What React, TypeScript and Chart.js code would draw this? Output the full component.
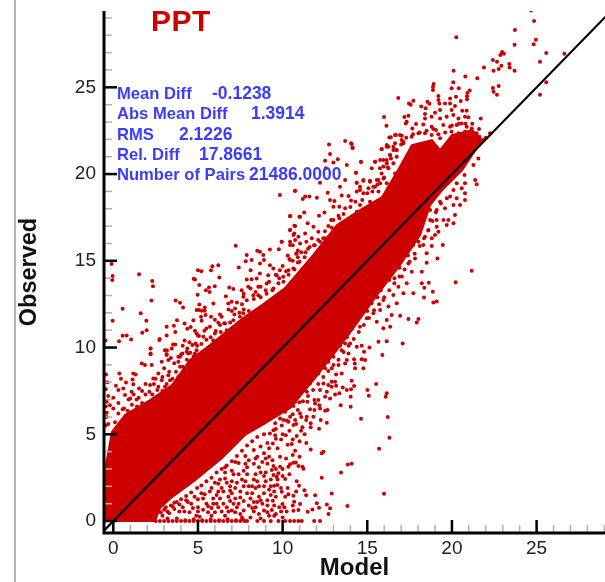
import React, { useEffect, useRef } from "react";
import { Chart, registerables } from "chart.js";

Chart.register(...registerables);

const titleText = "PPT";
const xTitle = "Model";
const yTitle = "Observed";
const xMajor = [0, 5, 10, 15, 20, 25];
const yMajor = [0, 5, 10, 15, 20, 25];
const xMinor = [1,2,3,4,6,7,8,9,11,12,13,14,16,17,18,19,21,22,23,24,26,27,28,29];
const yMinor = [1,2,3,4,6,7,8,9,11,12,13,14,16,17,18,19,21,22,23,24,26,27,28,29];
const statLabels = ["Mean Diff", "Abs Mean Diff", "RMS", "Rel. Diff", "Number of Pairs"];
const statValues = ["-0.1238", "1.3914", "2.1226", "17.8661", "21486.0000"];
const statLabelX = [117, 117, 117, 117, 117];
const statValueX = [212, 251, 179, 199, 249];
const statBaseY = [98.5, 119, 139.5, 160, 180];

// solid part of the cloud, outline
const coreOutline = [
  -0.49,0, -0.49,2.94, -0.08,5.13, 0.69,6.11, 2.17,6.97, 3.47,7.84, 4.53,9.28, 5.71,10.14, 7.66,11.7, 8.78,12.45,
  10.14,13.43, 11.8,15.33, 13.21,17.06, 14.57,17.93, 15.87,18.67, 16.82,20.23, 17.64,21.67, 18.82,21.96, 19.3,21.38, 20,22.25,
  21.19,22.54, 21.78,21.96, 20.6,20.23, 19.42,19.08, 18.71,18.21, 18.12,16.48, 16.94,14.76, 15.58,13.03, 14.1,11.01, 13.1,9.74,
  11.91,8.24, 10.44,6.51, 8.78,5.53, 7.78,4.96, 6.42,3.63, 4.83,2.36, 3.47,1.38, 2.76,0.75, 2.46,0, -0.49,0,
];
const farOutliers = [
  20.26,27.88, 24.67,29.43, 24.85,28.82, 23.72,28.3, 23.7,27.46, 24.83,27.49, 24.96,27.74, 25.57,26.98, 25.2,26.47, 26.64,26.94,
  25.57,25.3, 25.2,24.57, 22.42,26.57, 22.66,26.47, 22.86,26.86, 22.96,27.03, 23.07,26.94, 22.92,26.25, 22.76,26.05, 22.46,25.96,
  21.89,26.15, 23.39,26.34, 23.41,26.15, 23.7,25.96, 21.5,25.52, 20.79,25.63, 20.1,25.96, 20.08,25.3, 18.92,25.19, 18.88,25.03,
  18.88,24.84, 19.98,24.94, 20.4,24.94, 21.05,24.82, 20.91,24.67, 20.89,24.48, 20.89,24.32, 22.42,24.96, 22.76,25.07, 22.46,24.75,
  22.66,24.57, 16.83,24.38, 17.72,24.23, 17.46,24.07, 17.56,24, 18.19,23.9, 18.55,24.17, 18.67,24.05, 18.45,23.79, 19.2,24.5,
  19.2,24.27, 19.26,24.07, 19.59,24.07, 19.89,24.36, 20.24,24.46, 20.52,24.21, 19.89,24.07, 20.18,23.92, 19.98,23.69, 19.3,23.69,
  19,23.54, 18.8,23.3, 18.41,23.46, 18.41,23.21, 15.99,23.29, 16.13,22.79, 17.19,23.29, 17.43,23.36, 17.33,23.02, 17.27,22.92,
  17.88,22.88, 17.66,22.63, 18.31,22.86, 18.8,22.73, 19.06,22.54, 19.3,23.21, 19.69,23.3, 20.08,23.4, 20.61,23.65, 20.87,23.65,
  20.77,23.3, 20.38,23.21, 20.97,23.27, 21.7,23.21, 20.87,22.73, 20.57,22.92, 20.28,22.83, 19.89,22.73, 19.49,22.83, 21.17,22.63,
  20.77,22.44, 20.38,22.35, 19.98,22.44, 21.46,22.35, 21.26,22.15, 21.62,22.15, 22.25,22.35, 21.85,21.96, 21.52,21.87, 21.07,21.96,
  20.67,21.87, 20.18,21.96, 19.79,21.87, 19.3,22.06, 18.8,22.25, 18.41,22.35, 18.02,22.35, 17.62,22.15, 16.93,22.25, 16.64,22.25,
  16.3,22.11, 17.03,21.96, 14.08,21.73, 14.14,21.5, 14.63,20.69, 14.33,20.08, 15.85,21.44, 16.15,21.58, 16.54,21.58, 17.13,21.77,
  16.74,21.38, 16.34,21.1, 15.95,20.81, 15.46,20.71, 15.26,20.33, 15.75,20.33, 16.15,20.62, 15.16,19.56, 14.77,19.66, 14.37,19.5,
  15.65,19.66, 15.46,19.27, 14.57,19.08,
];
const upperEdgeDots = [
  12.74,21.71, 13.69,21.9, 14.04,21.77, 14.12,21.52, 12.8,21.16, 12.51,20.77, 13.26,20.85, 13,20.66, 12.55,20.33, 13.79,20.52,
  14.63,20.71, 14.34,20.08, 12.21,19.5, 13.69,19.66, 13.39,19.27, 10.74,19.02, 12.66,18.93, 11.58,18.7, 12.02,18.64, 11.33,18.7,
  11.19,18.56, 12.8,18.5, 13.06,18.45, 13.49,18.76, 13.89,18.74, 14.04,18.47, 13,18.12, 13.35,18.12, 13.69,18.03, 12.47,17.79,
  12.15,17.6, 11.27,17.79, 11.03,17.54, 10.44,17.58, 12.86,17.35, 13.35,17.45, 11.48,17.16, 11.82,16.97, 10.74,17.01, 10.44,16.78,
  12.11,16.68, 11.33,16.58, 10.64,16.49, 11.72,16.3, 10.74,16.2, 12.51,16.3, 12.21,16.1, 9.95,16.1, 10.44,15.91, 11.03,16, 12.8,16,
  13.2,16.78, 13.79,17.16, 14.38,17.83, 14.57,18.22, 14.38,18.99, 14.57,19.27, 14.38,19.5, 14.77,19.62, 15.16,19.62, 15.56,19.66,
  15.76,19.47, 15.36,19.27, 15.07,19.18, 14.77,18.89, 15.85,20.04, 15.95,20.43, 15.46,20.71, 15.76,20.81, 15.85,21.43, 16.25,21.58,
  16.15,21.68, 16.39,22.12, 16.68,22.25, 17.04,22.21, 16.64,21.77, 17.13,21.87, 16.54,21.39, 16.35,21.1, 16.15,20.81, 16.74,21,
  16.54,20.62, 16.25,20.33, 15.95,19.75, 16.15,19.47, 16.64,20.04, 16.84,19.66, 16.35,19.08, 15.66,18.99, 15.76,18.5, 15.46,18.22,
  15.16,18.41, 14.97,18.03, 14.77,17.64, 14.28,17.35, 13.98,17.45, 13.79,16.87, 12.9,16.9, 12.5,16.7, 11.9,15.9, 11.5,15.7, 11.1,15.5,
  12.2,15.6, 12.9,16.3, 13.4,17, 10.8,15.4, 11.3,15.2, 10.3,15.3, 10.6,15, 10.9,14.9, 11.4,16.1,
  -0.1,14.81, -0.04,14.12, -0.06,13.89, 1.52,14.23, 2.3,13.83, 2.34,13.54, 2.25,12.71, 0.55,12.23, 1.62,11.97, -0.04,11.54,
  1.95,11.54, 1.97,11, 1.71,10.85, 0.79,10.7, 0.55,10.68, 1.05,10.47, 0.34,10.37, -0.47,10.41, 2.72,10.43, 2.74,10.5, 3.15,11.2,
  3.15,10.7, 3.58,11.25, 3.76,11.58, 3.68,12.71, 3.94,12.58, 4.12,12.31, 2.2,9.95, 2.2,9.62, 3.07,9.83, 3.17,9.83, 3.15,9.62,
  3.53,10.18, 3.66,10.18, 3.66,10.89, 4.21,11.39, 4.57,11.18, 4.73,11.58, 4.21,10.41, 4.82,10.97, 4.37,11.08, 4.75,13.96, 4.82,13.92,
  5,14.46, 5.2,14.4, 5.08,13.6, 4.98,13.04, 5.08,12.48, 4.92,12.16, 5.06,12.16, 5.22,12.12, 5.4,12.31, 5.4,12.12, 5.18,11.77, 5.45,11.87,
  5.22,11.54, 5.77,11.77, 5.71,11.2, 5.38,10.97, 5.06,10.66, 4.92,10.81, 4.67,10.14, 4.86,10.24, 4.37,9.95, 4.08,9.66, 3.84,9.47,
  4.43,9.66, 4.82,9.66, 5.32,9.66, 5.32,10.62, 5.85,14.69, 5.77,14.46, 6.2,14.75, 6.26,14.04, 5.65,13.46, 5.99,13.54, 5.47,13.31,
  5.69,13.2, 5.91,12.54, 7.23,15.87, 7.88,15.33, 8.5,15.58, 7.82,14.98, 7.41,14.62, 6.85,13.46, 7.09,13.37, 6.65,12.96, 7.58,13.31,
  8.17,15.04, 8.11,14.46, 8.66,15.52, 8.86,15.33, 8.9,15.04, 8.66,14.85, 9.25,15.65, 9.78,15.67, 9.84,18.8, 10.73,19.04, 10.44,17.57,
  10.69,17.02, 10.44,16.77, 10.69,16.58, 9.94,16.1, 10.44,16.1, 10.6,15.9, 10.99,17.54, 10.93,16.38, 10.83,15.42, 10.44,15.04,
  9.25,14.75, 9.45,14.56, 9.84,14.46, 10.34,14.46, 10.63,14.56, 8.66,14.27, 9.15,14.17, 9.65,14.17, 10.04,14.08, 7.88,13.92, 8.17,13.94,
  8.47,13.98, 8.56,13.5, 9.06,13.69, 9.45,13.41, 7.97,13.5, 8.27,13.02, 7.68,12.93, 7.88,12.73, 8.56,13.02, 6.79,12.54, 6.99,12.64,
  7.19,12.25, 6.4,11.77, 6.2,11.43, 6.6,11.39, 7.09,11.58, 7.48,11.77, 7.68,11.97, 6.1,10.24, 6.5,10.24, 6,10.81, 6.7,11, 7.29,11.1,
  6.99,11.1, 5.71,10.04, 5.9,10.4,
];
const upperFillDots = [
  -0.43,8.45, 0.36,8.51, 1.18,8.51, 1.32,8.45, 0.75,7.99, 1.14,8.16, 1.18,7.89, 1.52,7.64, 0.3,7.55, 0.59,7.64, 1.08,7.45, 0.69,7.26, 1,7.07,
  1.38,7.01, -0.39,6.88, -0.2,6.68, 0,6.49, 0.63,6.49, -0.39,6.24, 1.68,9.08, 1.87,8.99, 2.27,8.99, 2.2,9.66, 2.2,9.95, 3.05,9.85, 3.15,9.57,
  2.86,9.18, 3.25,9.28, 2.66,8.51, 3.25,8.41, 2.36,8.22, 2.86,8.12, 3.35,8.12, 2.17,7.84, 2.66,7.74, 3.05,7.74, 3.45,7.74, 2.13,7.45,
  3.45,9.95, 3.94,9.47, 3.84,9.18, 3.94,8.89, 4.33,9.76, 4.92,9.85, 3.84,8.32,
  -0.3,5.6, 0.1,5.7, 0.3,6.2, 0.55,6.45, 0.85,6.35, 1.1,6.7, 1.4,6.6, 1.7,6.8, 1.5,7.1, 1.9,7.3, 2.3,7.3, 2.6,7.55, 2.9,7.5, 3.15,7.9, 3.5,8.2,
  3.7,8.6, 3.95,8.35, 4.1,8.9, 4.35,9.3, 4.55,9.7, 4.75,9.5, 4.95,10.1, 5.2,10.2, 5.5,10.45, 5.75,10.6, 6.05,10.95, 6.35,10.9, 6.55,11.4, 6.9,11.45,
  7.15,11.9, 7.45,12, 7.7,12.2, 8,12.1, 8.3,12.8, 8.7,12.9, 9.05,13.1, 9.4,13.3, 9.75,13.7, 10.05,13.8, 10.35,14.2, 10.7,14.5, 11,14.95, 11.35,15.5,
  11.6,15.8, 11.85,15.9, 12.1,16.2, 12.4,16.3, 12.7,17, 13,17.35, 13.3,17.6, 13.6,17.7, 14,18.1, 14.3,18.4, 14.7,18.5, 15,18.9, 15.3,19, 15.6,19.4,
  16,19.8, 16.2,20.4, 16.4,20.9, 16.7,21.4, 17,21.7, 17.3,22.1, 17.7,22.3, 18.1,22.4, 18.5,22.5, 18.9,22.6, 19.2,22.3, 19.6,22.4, 20,22.8, 20.4,22.9,
  20.8,22.9, 21.2,22.9, 21.6,22.6, 22,22.1,
  0.3,6.8, 0.9,7, 1.2,7.3, 1.7,7.5, 2.4,7.9, 2.9,8.3, 3.3,8.6, 3.6,9.1, 4,9.6, 4.5,10.3, 5,10.7, 5.5,11.1, 6,11.6, 6.3,11.9, 6.8,12.2, 7.3,12.6,
  7.7,13.1, 8.1,13.4, 8.7,13.5, 9.2,13.8, 9.6,14.2, 10,14.7, 10.4,15.1, 10.9,15.6, -0.45,5.5, -0.4,6, -0.45,6.6, -0.3,7.2, -0.45,7.6, -0.35,8, 0,7.1,
  0.15,7.8, 0.45,8.2, 1.9,7.9, 2.5,8.2, 3,8.8, 3.4,9.4, 4.1,10.1, 6.3,11.3, 7,12.1, 7.6,12.5, 8.4,13.2, 9,13.3, 9.8,14, 10.2,14.4, 10.9,15.2,
];
const lowerEdgeDots = [
  21.17,14.43, 20.22,13.76, 19.1,12.65, 18.9,12.59, 18.87,13.22, 18.35,12.88, 17.72,13.13, 18.63,13.74, 18.22,13.7, 18.37,13.45,
  19.14,15.14, 18.51,14.89, 18.22,14.37, 19.46,15.91, 18.81,15.85, 18.51,15.43, 17.82,15.14, 17.43,14.85, 17.63,14.37, 17.04,14.09,
  17.33,13.7, 16.84,13.51, 17.13,13.13, 16.54,13.03, 16.74,12.55, 16.25,12.36, 15.95,12.74, 15.76,12.17, 15.26,12.55, 15.36,11.97,
  14.97,11.69, 15.56,11.49, 16.15,11.59, 16.44,11.88, 16.94,11.84, 17.43,11.65, 18.02,11.65, 17.92,11.44, 16.35,11.2, 15.95,11.11,
  14.57,11.2, 21.56,20.9, 21.27,20.52, 20.74,19.95, 21.37,19.66, 21.46,19.41, 20.77,19.47, 20.28,19.47, 20.58,19.18, 20.09,19.08,
  20.77,18.89, 20.28,18.6, 19.89,18.7, 20.77,18.5, 20.48,18.22, 20.09,18.22, 19.59,18.03, 19.3,18.41, 20.18,17.64, 19.79,17.35,
  19.5,17.35, 20.09,17.16, 19.69,17.06, 19.1,17.35, 19.1,16.97, 18.71,17.35, 18.61,16.78, 19,16.49, 19.2,16.68, 18.81,16.3, 18.41,16.39,
  18.31,15.91, 18.02,16.1, 18.12,16.97, 18.71,17.93, 19.1,17.93, 18.51,18.41, 18.1,18, 17.7,15.9, 17.4,15.3, 16.9,14.6, 16.3,13.9,
  15.8,13.3, 15.3,12.9, 14.8,12.2, 14.4,11.7, 16.6,14, 16,13.7, 15.6,12.9, 15,12.1, 14.1,11.1, 13.8,10.6, 13.4,10.1,
  17.09,10.24, 15.89,9.57, 16.15,10.37, 15.66,10.33, 15.13,10, 14.81,9.76, 14.87,9.28, 14.67,9.33, 14.77,8.8, 14.28,8.8, 14.22,9.33,
  14.26,9.08, 14.38,10.05, 14.67,10.1, 14.08,8.09, 15.52,7.9, 14.22,7.78, 14.04,7.59, 13.79,7.55, 15.01,7.55, 16.15,7.36, 16.09,7.16,
  15.09,7.22, 14.02,7.16, 14.02,6.59, 13.43,6.68, 14.63,5.9, 16.21,5.99, 16.31,4.8, 15.7,4.17, 14.08,3.3, 13.85,3.26, 13.45,2.8,
  12.31,2.5, 12.9,1.59, 15.99,1.57, 13.83,0.86, 12.71,0.4, 12.8,0.73, 12.61,0.96, 12.15,0.77, 12.02,1.02, 11.76,0.67, 11.48,0.54,
  11.92,1.48, 11.39,1.48, 11.29,1.78, 10.97,2.03, 10.83,2.3, 10.64,1.46, 10.34,1.55, 10.15,1.4, 9.95,1.69, 10.68,1.11, 11.03,0.98,
  10.93,0.63, 10.64,0.59, 10.24,0.55, 9.91,0.55, 9.99,0.98, 9.42,1.17, 9.36,0.63, 12.31,3.9, 12.41,4, 11.66,4.13, 10.74,4.05, 10.54,4.44,
  9.85,3.71, 9.91,4.7, 9.42,4.47, 10.19,4.95, 10.83,4.9, 11.17,5.4, 11.09,5.2, 11.66,5.4, 12.15,5.32, 12.61,5.67, 12.25,5.82, 11.82,6.01,
  11.43,6.01, 11.39,5.82, 11.66,5.63, 11.03,6.2, 12.51,6.36, 12.65,6.4, 12.21,6.49, 12.17,6.68, 11.88,6.4, 11.62,6.45, 11.92,6.78,
  11.88,6.97, 11.46,6.88, 10.99,6.84, 10.74,6.88, 10.24,6.49, 10.15,6.3, 10.64,6.63, 10.44,6.01, 10.74,5.82, 10.34,5.72, 10.05,5.82,
  9.85,5.91, 10.64,5.53, 9.56,5.63, 9.46,5.24, 9.56,4.95, 10.44,3.28, 10.64,3.36, 10.78,3.38, 10.34,3.13, 10.93,3.17, 11.17,3.13,
  11.23,3.01, 9.85,3.13, 9.46,3.17, 9.36,2.94, 9.75,2.75, 9.65,2.55, 9.46,2.65, 10.15,2.42, 9.69,2.07, 9.5,2.03, 12.41,7.93, 12.9,8.03,
  13.1,8.03, 13.16,7.8, 12.9,7.74, 12.7,7.84, 13.55,7.7, 13.35,7.36, 13.1,7.3, 12.8,7.07, 12.51,7.16, 12.21,7.55, 12.61,7.45, 12.11,6.97,
  13.3,9, 13.49,8.51, 13.16,8.45, 12.9,8.8, 13.69,9.08, 13.79,9.28, 13.69,10.24, 13.98,10.24, 13.39,10.33, 13.2,10.05, 13.49,9.85,
  13.89,9.66, 13,9.47, 12.7,9.18, 12.51,8.8, 12.11,8.51, 11.82,8.22, 11.62,7.93, 11.43,7.45, 10.93,7.16,
];
const lowerFillDots = [
  2.9,0.3, 3.2,0.55, 3.5,0.85, 3.75,1.1, 4,1.25, 4.3,1.45, 4.6,1.65, 4.95,1.9, 5.2,2.05, 5.5,2.3, 5.8,2.5, 6.1,2.8, 6.4,3, 6.7,3.2, 7,3.45, 7.3,3.75,
  7.6,4.05, 7.9,4.35, 8.2,4.6, 8.5,4.85, 8.9,5, 9.25,5.05, 9.6,5.3, 9.95,5.5, 10.25,5.8, 10.6,6.15, 10.9,6.4, 11.2,6.9, 11.5,7.2, 11.8,7.55, 12.1,7.9,
  12.4,8.3, 12.7,8.65, 13,9, 13.3,9.3, 13.6,9.75, 13.9,10.1, 14.2,10.5, 14.5,10.9, 14.8,11.3, 15.1,11.7, 15.4,12.15, 15.7,12.5, 16,12.9, 16.3,13.3,
  16.6,13.7, 16.9,14.1, 17.2,14.5, 17.5,14.95, 17.8,15.4, 18.1,15.85, 18.35,16.3, 18.6,16.75, 18.85,17.3, 19.05,17.8, 19.35,18.3, 19.7,18.6,
  3.1,0.8, 3.6,1.05, 4.2,0.55, 4.7,0.75, 5,1.25, 5.4,1.55, 5.8,1.9, 6.2,2.15, 6.6,2.45, 7.1,2.7, 7.4,3.35, 7.8,3.75, 8.3,4.1, 8.7,4.3, 9.1,4.5, 9.6,4.75,
  10,5, 10.4,5.2, 10.8,5.6, 11.1,6, 3.2,0.15, 3.75,0.15, 4.25,0.05, 4.75,0.1, 5.25,0.05, 5.75,0.1, 6.25,0.05, 6.75,0.1, 7.25,0.05, 7.65,0.1,
  5,0.55, 5.8,0.75, 6.4,0.55, 7,0.6, 7.5,0.4, 8.3,0.55, 8.5,1.1, 9.1,0.9, 9.6,0.4, 10,0.2, 5.1,0.25, 5.5,1, 5.9,1.3, 6.3,1.3, 6.5,1.7, 6.7,2.2, 7,1.6,
  7.2,1.3, 7.3,2.2, 7.7,2, 7.9,1.6, 7.9,2.7, 8.2,1.6, 8.3,2.4, 8.6,1.4, 8.6,2, 8.7,2.8, 8.8,3.4, 9,2.8, 9.2,3.7, 8.9,3.9, 8.3,3.3, 7.7,2.9, 7.2,3.4,
  6.6,3.1, 6,2.2, 5.7,1.7, 5.3,1.3, 4.8,1.4, 4.4,1.1, 3.9,0.55, 3.3,0.45, 8.1,0.2, 8.4,0.8, 8.9,0.6, 9.2,0.3, 9.5,0.9, 9.6,1.4, 9.3,2, 9.1,1.2, 9.7,2.4,
  9.6,3, 10,3, 10.2,3.6, 9.7,4.2, 10.3,4.4, 10.6,4.7, 11,4.6, 10.6,3.8, 11,3.7, 11.4,4.5, 11.3,5,
  8.2,2, 8.4,2.7, 8.5,3.7, 8.6,0.4, 8.8,1, 8.9,1.6, 9,2.3, 9.1,3.3, 9.2,4.2, 9.3,1.5, 7.1,1, 7.7,0.6, 5.6,0.5, 6,0.5, 6.1,1, 6.2,1.7, 6.3,2.4, 6.6,0.3,
  6.7,0.8, 6.8,1.4, 6.9,2, 7,2.9, 7.2,0.5, 7.4,1, 7.5,1.7, 7.6,2.4, 7.8,3.3, 8,0.9, 8.1,1.3,
  2.8,0.5, 3,0.65, 3.4,0.9, 3.6,0.7, 3.9,0.95, 4.1,0.8, 4.3,1.2, 4.5,0.5, 4.6,1, 4.9,0.3, 5,0.8, 5.2,1.6, 5.3,0.65, 5.6,0.85, 5.8,0.3, 5.9,1, 6.1,1.5,
  6.2,0.8, 6.4,1.9, 6.5,1, 6.6,2.8, 6.8,0.55, 6.9,1.15, 6.9,1.75, 7,2.3, 7.2,1.9, 7.3,0.8, 7.4,2.7, 7.5,1.35, 7.6,0.2, 7.7,1.15, 7.8,2.3, 7.9,3.1, 8,2,
  8,3.5, 8.2,0.75, 8.3,1.1, 8.4,1.9, 8.4,3.6, 8.5,2.3, 8.6,3.1, 8.7,0.15, 8.7,1.2, 8.9,2, 8.9,2.6, 9,3.6, 9.1,0.5, 9.2,1.8, 9.3,2.4, 9.4,3.5, 9.5,0.3,
  9.5,1.7, 9.8,0.8, 9.9,1.9, 10,2.6, 10.1,0.8, 10.3,1.9, 10.4,2.7, 10.6,0.9, 10.8,1.7,
];
const bottomRowX = [
  2.5,2.75,3,3.25,3.5,3.75,4,4.25,4.5,4.75,5,5.25,5.5,5.75,6,6.25,6.5,6.75,7,7.25,7.5,7.75,7.9,8.5,8.9,9.3,9.75,10.15,10.44,10.68,10.93,11.13,11.86,12.21,
];

const pairs = (flat: number[]) => {
  const out: { x: number; y: number }[] = [];
  for (let i = 0; i < flat.length; i += 2) out.push({ x: flat[i], y: flat[i + 1] });
  return out;
};

const RED = "#cc0000";
const BLUE = "#3c3cff";

const decor = {
  id: "decor",
  beforeDraw(chart: any) {
    const c = chart.ctx;
    c.save();
    c.fillStyle = "#b4b4b4";
    c.fillRect(14, 0, 2, 582);
    c.restore();
  },
  afterDatasetsDraw(chart: any) {
    const c = chart.ctx;
    const xs = chart.scales.x;
    const ys = chart.scales.y;
    const a = chart.chartArea;
    c.save();
    c.strokeStyle = "#b0b0b0";
    c.lineWidth = 1.5;
    for (const v of xMinor) {
      const p = xs.getPixelForValue(v);
      c.beginPath(); c.moveTo(p, a.bottom); c.lineTo(p, a.bottom - 8); c.stroke();
    }
    for (const v of yMinor) {
      const p = ys.getPixelForValue(v);
      c.beginPath(); c.moveTo(a.left, p); c.lineTo(a.left + 8, p); c.stroke();
    }
    c.strokeStyle = "#000";
    c.lineWidth = 2.5;
    for (const v of xMajor) {
      const p = xs.getPixelForValue(v);
      c.beginPath(); c.moveTo(p, a.bottom); c.lineTo(p, a.bottom - 13); c.stroke();
    }
    for (const v of yMajor) {
      const p = ys.getPixelForValue(v);
      c.beginPath(); c.moveTo(a.left, p); c.lineTo(a.left + 13, p); c.stroke();
    }
    c.lineWidth = 3;
    c.beginPath(); c.moveTo(a.left, a.top); c.lineTo(a.left, a.bottom); c.lineTo(a.right, a.bottom); c.stroke();

    c.textBaseline = "alphabetic";
    c.textAlign = "left";
    c.fillStyle = RED;
    c.font = 'bold 30px "Liberation Sans"';
    c.letterSpacing = "0.5px";
    c.fillText(titleText, 151, 31);
    c.letterSpacing = "0px";
    c.fillStyle = BLUE;
    statLabels.forEach((t, i) => {
      c.font = 'bold 16.6px "Liberation Sans"';
      c.fillText(t, statLabelX[i], statBaseY[i]);
      c.font = 'bold 17.5px "Liberation Sans"';
      c.fillText(statValues[i], statValueX[i], statBaseY[i]);
    });
    c.restore();
  },
};

export default function App() {
  const ref = useRef<HTMLCanvasElement>(null);
  useEffect(() => {
    document.body.style.margin = "0";
    const dots = (name: string, data: { x: number; y: number }[]) => ({
      type: "scatter" as const,
      label: name,
      data,
      pointRadius: 2,
      pointBackgroundColor: RED,
      pointBorderWidth: 0,
      showLine: false,
      order: 2,
    });
    const chart = new Chart(ref.current!, {
      type: "scatter",
      data: {
        datasets: [
          {
            type: "line",
            label: "One to one",
            data: [{ x: -0.69, y: -0.69 }, { x: 29.1, y: 29.1 }],
            borderColor: "#000",
            borderWidth: 2.2,
            pointRadius: 0,
            tension: 0,
            fill: false,
            order: 1,
          },
          dots("far", pairs(farOutliers)),
          dots("upper edge", pairs(upperEdgeDots)),
          dots("upper", pairs(upperFillDots)),
          dots("lower edge", pairs(lowerEdgeDots)),
          dots("lower", pairs(lowerFillDots)),
          dots("bottom row", bottomRowX.map((x) => ({ x, y: 0 }))),
          {
            type: "line",
            label: "Core",
            data: pairs(coreOutline),
            borderColor: RED,
            borderWidth: 2,
            backgroundColor: RED,
            pointRadius: 0,
            tension: 0,
            fill: "shape",
            order: 3,
          },
        ],
      } as any,
      options: {
        responsive: false,
        animation: false,
        layout: { autoPadding: false, padding: { top: 11, right: 0, left: 0, bottom: 0 } },
        plugins: { legend: { display: false }, tooltip: { enabled: false }, title: { display: false } },
        scales: {
          x: {
            type: "linear",
            min: -0.55,
            max: 29.04,
            afterFit: (s: any) => { s.height = 49; s.paddingLeft = 0; s.paddingRight = 0; },
            afterBuildTicks: (s: any) => { s.ticks = xMajor.map((value) => ({ value })); },
            grid: { display: false, drawTicks: false },
            border: { display: false },
            ticks: { autoSkip: false, maxRotation: 0, padding: 4, color: "#222", font: { family: "Liberation Sans", size: 19 } },
            title: { display: true, text: xTitle, color: "#111", font: { family: "Liberation Sans", size: 24, weight: "bold" }, padding: { top: 0, bottom: -1 } },
          },
          y: {
            type: "linear",
            min: -0.69,
            max: 29.4,
            afterFit: (s: any) => { s.width = 104; s.paddingTop = 0; s.paddingBottom = 0; },
            afterBuildTicks: (s: any) => { s.ticks = yMajor.map((value) => ({ value })); },
            grid: { display: false, drawTicks: false },
            border: { display: false },
            ticks: { autoSkip: false, padding: 8, color: "#222", font: { family: "Liberation Sans", size: 19 } },
            title: { display: true, text: yTitle, color: "#111", font: { family: "Liberation Sans", size: 23.5, weight: "bold" }, padding: { top: 15, bottom: 0 } },
          },
        },
      },
      plugins: [decor],
    } as any);
    return () => chart.destroy();
  }, []);
  return <canvas ref={ref} width={605} height={582} style={{ display: "block" }} />;
}
